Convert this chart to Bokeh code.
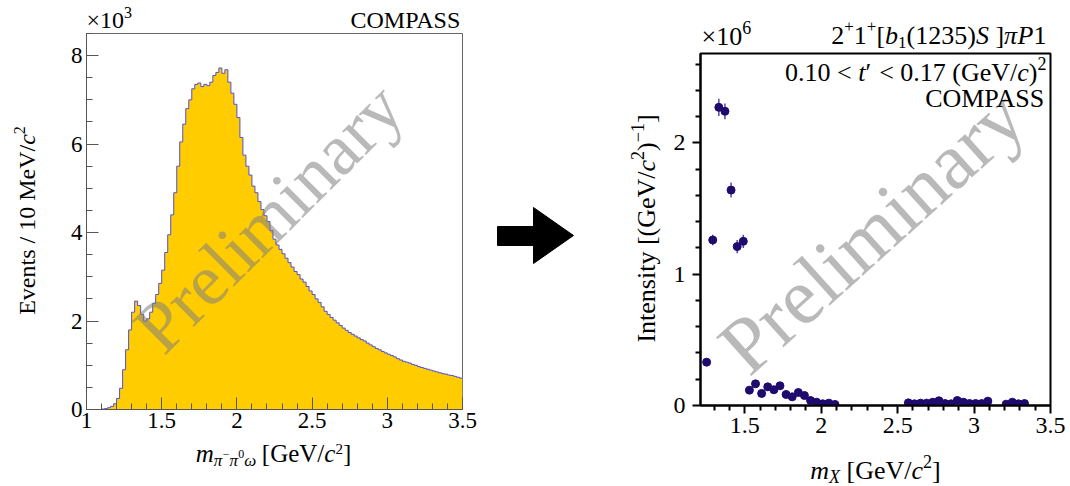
import math
import numpy as np
from bokeh.plotting import figure
from bokeh.layouts import row, column
from bokeh.models import Range1d, FixedTicker, Label
from bokeh.embed import file_html
from bokeh.resources import INLINE

# ---------------- data ----------------
hist_first_edge = 1.0      # GeV/c^2
hist_bin_width = 0.02      # GeV/c^2
events_k = [0, 0, 0, 0, 0, 0.01, 0.02, 0.04, 0.07, 0.13,
            0.25, 0.48, 0.90, 1.35, 1.80, 2.20, 2.45, 2.35, 2.15, 2.00,
            2.05, 2.20, 2.40, 2.60, 2.85, 3.15, 3.55, 3.95, 4.40, 4.90,
            5.50, 6.05, 6.45, 6.80, 7.00, 7.25, 7.35, 7.38, 7.30, 7.35,
            7.32, 7.40, 7.55, 7.62, 7.72, 7.60, 7.68, 7.40, 7.15, 6.90,
            6.60, 6.15, 5.75, 5.50, 5.30, 5.05, 4.90, 4.70, 4.52, 4.38,
            4.25, 4.05, 3.85, 3.72, 3.62, 3.52, 3.42, 3.32, 3.22, 3.12,
            3.05, 2.95, 2.88, 2.78, 2.68, 2.60, 2.50, 2.42, 2.32, 2.22,
            2.15, 2.08, 2.02, 1.96, 1.90, 1.84, 1.79, 1.74, 1.70, 1.66,
            1.62, 1.58, 1.55, 1.50, 1.46, 1.42, 1.38, 1.35, 1.31, 1.28,
            1.25, 1.22, 1.19, 1.15, 1.12, 1.09, 1.07, 1.05, 1.02, 1.00,
            0.97, 0.95, 0.93, 0.91, 0.89, 0.87, 0.85, 0.83, 0.81, 0.80,
            0.78, 0.77, 0.75, 0.73, 0.71]

mx = [1.25, 1.29, 1.33, 1.37, 1.41, 1.45, 1.49, 1.53, 1.57, 1.61,
      1.65, 1.69, 1.73, 1.77, 1.81, 1.85, 1.89, 1.93, 1.97, 2.01,
      2.05, 2.09, 2.57, 2.61, 2.65, 2.69, 2.73, 2.77, 2.81, 2.85,
      2.89, 2.93, 2.97, 3.01, 3.05, 3.09, 3.21, 3.25, 3.29, 3.33]
intensity_M = [0.33, 1.26, 2.27, 2.24, 1.64, 1.21, 1.25, 0.117, 0.165, 0.092,
               0.142, 0.12, 0.15, 0.084, 0.066, 0.099, 0.076, 0.038, 0.025, 0.013,
               0.018, 0.008, 0.02, 0.013, 0.018, 0.018, 0.025, 0.036, 0.015, 0.013,
               0.038, 0.025, 0.015, 0.015, 0.015, 0.033, 0.01, 0.025, 0.013, 0.015]
intensity_err_M = [0.02, 0.04, 0.065, 0.06, 0.057, 0.05, 0.05, 0.015, 0.015, 0.015,
                   0.015, 0.015, 0.015, 0.012, 0.012, 0.012, 0.012, 0.01, 0.01, 0.008,
                   0.008, 0.006, 0.008, 0.006, 0.006, 0.006, 0.008, 0.008, 0.006, 0.006,
                   0.008, 0.008, 0.006, 0.006, 0.006, 0.008, 0.006, 0.008, 0.006, 0.006]

left_x_ticks = [1, 1.5, 2, 2.5, 3, 3.5]
left_x_labels = ["1", "1.5", "2", "2.5", "3", "3.5"]
left_y_ticks = [0, 2, 4, 6, 8]
right_x_ticks = [1.5, 2.0, 2.5, 3.0, 3.5]
right_y_ticks = [0, 1, 2]

FONT = "Liberation Serif"
HIST_FILL = "#ffcc00"
HIST_LINE = "#5050d8"
POINT_COLOR = "#1f0a6e"

# ---------------- rich text helper ----------------
W_R = {' ': 250, '(': 333, ')': 333, '[': 333, ']': 333, '+': 564, '-': 333, '\u2212': 564,
       '.': 250, '/': 278, '<': 564, '\u00d7': 564, '\u2032': 275,
       'A': 722, 'C': 667, 'E': 611, 'G': 722, 'I': 333, 'M': 889, 'O': 722, 'P': 556,
       'S': 556, 'V': 722, 'a': 444, 'e': 444, 'i': 278, 'l': 278, 'm': 778, 'n': 500,
       'r': 333, 's': 389, 't': 278, 'v': 500, 'y': 500, 'c': 444, 'b': 500}
W_I = {'b': 500, 'c': 444, 'm': 722, 't': 278, 'S': 500, 'P': 611, 'X': 611,
       '\u03c0': 520, '\u03c9': 667}
BASE_COMP = 0.28   # rendered baseline sits this fraction of the font size lower


def tw(s, size, italic):
    tab = W_I if italic else W_R
    return sum(tab.get(ch, 500) for ch in s) * size / 1000.0


def rich(p, x, y, pieces, align="left", angle=0.0, color="black"):
    total = sum(tw(t, s, it) for t, s, it, dy in pieces)
    adv = 0.0 if align == "left" else (-total if align == "right" else -total / 2)
    ca, sa = math.cos(angle), math.sin(angle)
    for t, s, it, dy in pieces:
        if t.strip():
            d = dy + BASE_COMP * s
            px = x + adv * ca - d * sa
            py = y + adv * sa + d * ca
            p.add_layout(Label(x=px, y=py, x_units="screen", y_units="screen", text=t,
                               text_font=FONT, text_font_size=f"{s}px",
                               text_font_style="italic" if it else "normal",
                               text_color=color, angle=angle, text_align="left",
                               text_baseline="alphabetic"))
        adv += tw(t, s, it)


def minor_list(lo, hi, step, majors):
    n = int(round((hi - lo) / step))
    vals = [round(lo + i * step, 4) for i in range(n + 1)]
    return [v for v in vals if all(abs(v - m) > 1e-6 for m in majors)]


def text_fig(w, h, left=0, right=0):
    f = figure(width=w, height=h, x_range=Range1d(0, w - left - right), y_range=Range1d(0, h),
               output_backend="svg", toolbar_location=None,
               min_border_left=left, min_border_right=right, min_border_top=0, min_border_bottom=0,
               x_axis_location=None, y_axis_location=None)
    f.grid.visible = False
    f.outline_line_color = None
    f.background_fill_color = "white"
    f.border_fill_color = "white"
    return f


# ---------------- left panel ----------------
L_LEFT, L_RIGHT = 36, 18
p1 = figure(width=430, height=408, x_range=Range1d(1.0, 3.5), y_range=Range1d(0, 8.5),
            output_backend="svg", toolbar_location=None,
            min_border_left=L_LEFT, min_border_right=L_RIGHT, min_border_top=1, min_border_bottom=31)
p1.grid.visible = False
p1.outline_line_color = "#666666"
p1.outline_line_width = 1
p1.background_fill_color = "white"
p1.border_fill_color = "white"

edges = hist_first_edge + hist_bin_width * np.arange(len(events_k) + 1)
yext = list(events_k) + [events_k[-1]]
p1.varea_step(x=edges, y1=np.zeros(len(edges)), y2=yext, step_mode="after", fill_color=HIST_FILL)
p1.step(x=edges, y=yext, mode="after", line_color=HIST_LINE, line_width=1)

p1.xaxis.ticker = FixedTicker(ticks=left_x_ticks, minor_ticks=minor_list(1.0, 3.5, 0.1, left_x_ticks))
p1.yaxis.ticker = FixedTicker(ticks=left_y_ticks, minor_ticks=minor_list(0, 8.5, 0.5, left_y_ticks))
p1.xaxis.major_label_overrides = {t: l for t, l in zip(left_x_ticks, left_x_labels)}
for ax in (p1.xaxis[0], p1.yaxis[0]):
    ax.major_tick_in = 12
    ax.major_tick_out = 0
    ax.minor_tick_in = 6
    ax.minor_tick_out = 0
    ax.axis_line_color = "#555555"
    ax.major_tick_line_color = "#555555"
    ax.minor_tick_line_color = "#555555"
    ax.major_label_text_font = FONT
    ax.major_label_text_font_size = "23px"
    ax.major_label_text_color = "black"
p1.xaxis.major_label_standoff = 3
p1.yaxis.major_label_standoff = 4

p1.add_layout(Label(x=182, y=192, x_units="screen", y_units="screen", text="Preliminary",
                    text_font=FONT, text_font_size="73px", text_color="#7f7f7f", text_alpha=0.55,
                    angle=math.radians(45), text_align="center", text_baseline="middle"))

fL_y = text_fig(50, 486)
rich(fL_y, 33, 266, [("Events / 10 MeV/", 24, False, 0), ("c", 24, True, 0), ("2", 16, False, 10)],
     align="center", angle=math.pi / 2)

fL_top = text_fig(430, 32, L_LEFT, L_RIGHT)
rich(fL_top, 0, 6, [("\u00d710", 24, False, 0), ("3", 16, False, 10)])
rich(fL_top, 376, 6, [("COMPASS", 24, False, 0)], align="right")

fL_bot = text_fig(430, 46, L_LEFT, L_RIGHT)
rich(fL_bot, 187, 26, [("m", 25, True, 0), ("\u03c0", 17, True, -5), ("\u2212", 12, False, 3),
                       ("\u03c0", 17, True, -5), ("0", 12, False, 3), ("\u03c9", 17, True, -5),
                       (" ", 25, False, 0), ("[GeV/", 25, False, 0), ("c", 25, True, 0),
                       ("2", 15, False, 7), ("]", 25, False, 0)], align="center")

# ---------------- arrow panel ----------------
pa = text_fig(145, 486)
pa.patch(x=[17, 53, 53, 93, 53, 53, 17], y=[241, 241, 223, 251, 279, 260, 260],
         fill_color="black", line_color="black")

# ---------------- right panel ----------------
R_LEFT, R_RIGHT = 29, 20
p2 = figure(width=400, height=397, x_range=Range1d(1.21, 3.5), y_range=Range1d(0, 2.68),
            output_backend="svg", toolbar_location=None,
            min_border_left=R_LEFT, min_border_right=R_RIGHT, min_border_top=1, min_border_bottom=44)
p2.grid.visible = False
p2.outline_line_color = "black"
p2.outline_line_width = 2
p2.background_fill_color = "white"
p2.border_fill_color = "white"

p2.add_layout(Label(x=171, y=174, x_units="screen", y_units="screen", text="Preliminary",
                    text_font=FONT, text_font_size="80px", text_color="#7f7f7f", text_alpha=0.55,
                    angle=math.radians(42), text_align="center", text_baseline="middle",
                    level="underlay"))

lo = [v - e for v, e in zip(intensity_M, intensity_err_M)]
hi = [v + e for v, e in zip(intensity_M, intensity_err_M)]
p2.segment(x0=mx, y0=lo, x1=mx, y1=hi, line_color="#5a4aa8", line_width=1.5)
p2.scatter(x=mx, y=intensity_M, size=8, fill_color=POINT_COLOR, line_color=POINT_COLOR)

p2.xaxis.ticker = FixedTicker(ticks=right_x_ticks, minor_ticks=minor_list(1.3, 3.5, 0.1, right_x_ticks))
p2.yaxis.ticker = FixedTicker(ticks=right_y_ticks, minor_ticks=minor_list(0, 2.6, 0.2, right_y_ticks))
for ax in (p2.xaxis[0], p2.yaxis[0]):
    ax.major_tick_in = 0
    ax.major_tick_out = 8
    ax.minor_tick_in = 0
    ax.minor_tick_out = 5
    ax.axis_line_color = "black"
    ax.axis_line_width = 2
    ax.major_tick_line_color = "black"
    ax.major_tick_line_width = 2
    ax.minor_tick_line_color = "black"
    ax.minor_tick_line_width = 2
    ax.major_label_text_font = FONT
    ax.major_label_text_font_size = "24px"
    ax.major_label_text_color = "black"
p2.xaxis.major_label_standoff = 4
p2.yaxis.major_label_standoff = 7

rich(p2, 346, 326, [("0.10 <", 26, False, 0), (" ", 26, False, 0), ("t", 26, True, 0),
                    ("\u2032", 26, False, 0), (" ", 26, False, 0), ("< 0.17 (GeV/", 26, False, 0),
                    ("c", 26, True, 0), (")", 26, False, 0), ("2", 18, False, 11)], align="right")
rich(p2, 346, 300, [("COMPASS", 26, False, 0)], align="right")

fR_y = text_fig(45, 486)
rich(fR_y, 28, 258, [("Intensity [(GeV/", 26, False, 0), ("c", 26, True, 0), ("2", 18, False, 11),
                     (")", 26, False, 0), ("\u22121", 18, False, 11), ("]", 26, False, 0)],
     align="center", angle=math.pi / 2)

fR_top = text_fig(400, 52, R_LEFT, R_RIGHT)
rich(fR_top, 1, 9, [("\u00d710", 26, False, 0), ("6", 18, False, 11)])
rich(fR_top, 346, 10, [("2", 26, False, 0), ("+", 17, False, 11), ("1", 26, False, 0),
                       ("+", 17, False, 11), ("[", 26, False, 0), ("b", 26, True, 0),
                       ("1", 17, False, -5), ("(1235)", 26, False, 0), ("S", 26, True, 0),
                       (" ", 26, False, 0), ("]", 26, False, 0), ("\u03c0", 26, True, 0),
                       ("P", 26, True, 0), ("1", 26, False, 0)], align="right")

fR_bot = text_fig(400, 37, R_LEFT, R_RIGHT)
rich(fR_bot, 175, 9, [("m", 26, True, 0), ("X", 18, True, -5), (" ", 26, False, 0),
                      ("[GeV/", 26, False, 0), ("c", 26, True, 0), ("2", 18, False, 11),
                      ("]", 26, False, 0)], align="center")

left_col = column(fL_top, p1, fL_bot, spacing=0)
right_col = column(fR_top, p2, fR_bot, spacing=0)
layout = row(fL_y, left_col, pa, fR_y, right_col, spacing=0)
open("out.html", "w").write(file_html(layout, INLINE))
